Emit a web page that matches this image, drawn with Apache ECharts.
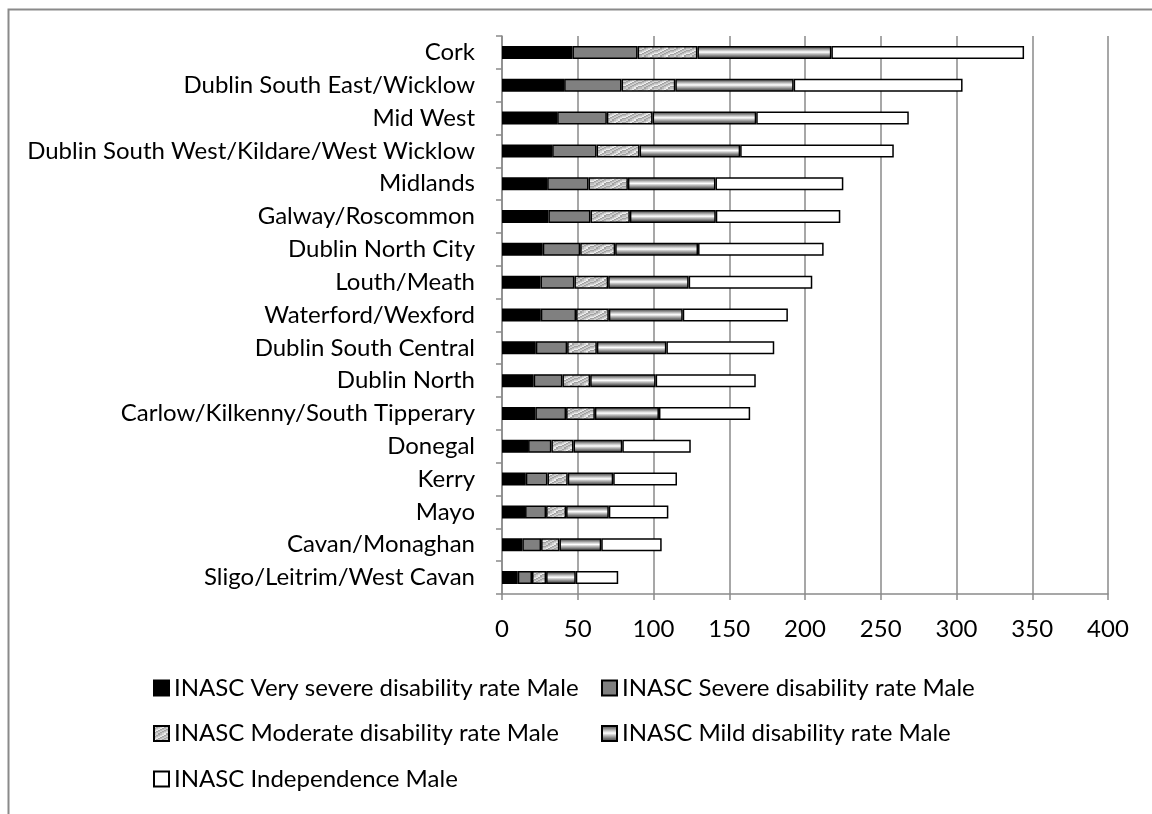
<!DOCTYPE html>
<html>
<head>
<meta charset="utf-8">
<script src="https://cdn.jsdelivr.net/npm/echarts@6/dist/echarts.min.js"></script>
<style>
  html, body { margin: 0; padding: 0; background: #fff; }
  #chart { width: 1152px; height: 814px; }
</style>
</head>
<body>
<div id="chart"></div>
<script>
const categories = ['Cork','Dublin South East/Wicklow','Mid West','Dublin South West/Kildare/West Wicklow','Midlands','Galway/Roscommon','Dublin North City','Louth/Meath','Waterford/Wexford','Dublin South Central','Dublin North','Carlow/Kilkenny/South Tipperary','Donegal','Kerry','Mayo','Cavan/Monaghan','Sligo/Leitrim/West Cavan'];
const verySevere = [46.5, 41, 36.4, 33.1, 29.8, 30.6, 26.9, 25.4, 25.6, 22.3, 20.9, 22, 17.2, 15.7, 15.2, 13.4, 10.4];
const severe = [43, 37.9, 32.8, 29.3, 27.3, 27.8, 24.7, 22.4, 23.3, 20.7, 19, 20.3, 15.4, 14.3, 13.9, 12.4, 9.4];
const moderate = [39.5, 35.5, 30.2, 28.4, 26, 26, 23.1, 22.3, 21.6, 19.6, 18.3, 19, 14.6, 13.4, 13.2, 12.1, 9.3];
const mild = [88.4, 78.1, 68.4, 66.4, 57.8, 56.7, 54.7, 53.1, 48.8, 45.9, 43.2, 42.3, 32.2, 30, 28.2, 27.6, 19.6];
const independence = [127.2, 111.5, 100.7, 101.4, 84.4, 82.2, 82.9, 81.6, 69.4, 71.2, 66.1, 60.2, 45.2, 42.1, 39.3, 39.9, 28];
const seriesNames = ['INASC Very severe disability rate Male','INASC Severe disability rate Male','INASC Moderate disability rate Male','INASC Mild disability rate Male','INASC Independence Male'];
const xTicks = { min: 0, max: 400, interval: 50 };

// mottled light-grey texture for the "moderate" series (fixed tile, no randomness)
const mottleTile = [
  '2211332211003322',
  '1133221100332211',
  '3322110033221133',
  '2211003322113322',
  '1100332211332211',
  '0033221133221100',
  '3322113322110033',
  '2211332211003322'
];
const mottleShades = ['#eeeeee', '#d4d4d4', '#bdbdbd', '#a2a2a2'];
function makeMottle() {
  const c = document.createElement('canvas');
  c.width = 16; c.height = 8;
  const g = c.getContext('2d');
  for (let y = 0; y < 8; y++) for (let x = 0; x < 16; x++) {
    g.fillStyle = mottleShades[+mottleTile[y][x]];
    g.fillRect(x, y, 1, 1);
  }
  return c;
}
const mildFill = new echarts.graphic.LinearGradient(0, 0, 0, 1, [
  { offset: 0, color: '#3c3c3c' }, { offset: 0.18, color: '#7c7c7c' },
  { offset: 0.36, color: '#cfcfcf' }, { offset: 0.48, color: '#ffffff' },
  { offset: 0.6, color: '#c4c4c4' }, { offset: 0.8, color: '#727272' },
  { offset: 1, color: '#3a3a3a' }
]);
const fills = ['#000000', '#808080', { image: makeMottle(), repeat: 'repeat' }, mildFill, '#ffffff'];
const dataSets = [verySevere, severe, moderate, mild, independence];

const FONT = 'Lato';
const chart = echarts.init(document.getElementById('chart'), null, { renderer: 'canvas' });
const legendText = { fontFamily: FONT, fontSize: 24, color: '#000', lineHeight: 30, padding: [0, 0, 0, 0] };
chart.setOption({
  backgroundColor: '#fff',
  animation: false,
  graphic: [{
    type: 'rect', left: 6, top: 7, silent: true,
    shape: { x: 0, y: 0, width: 1300, height: 900 },
    style: { fill: 'none', stroke: '#8a8a8a', lineWidth: 2 }
  }],
  legend: [
    { orient: 'vertical', left: 148, top: 668, itemWidth: 15, itemHeight: 15, itemGap: 15.5, icon: 'rect',
      data: [seriesNames[0], seriesNames[2], seriesNames[4]], textStyle: legendText, selectedMode: false },
    { orient: 'vertical', left: 596, top: 668, itemWidth: 15, itemHeight: 15, itemGap: 15.5, icon: 'rect',
      data: [seriesNames[1], seriesNames[3]], textStyle: legendText, selectedMode: false }
  ],
  grid: { left: 502, right: 44, top: 36, bottom: 220, containLabel: false },
  xAxis: {
    type: 'value', min: xTicks.min, max: xTicks.max, interval: xTicks.interval,
    axisLine: { show: true, lineStyle: { color: '#8a8a8a', width: 1.5 } },
    axisTick: { show: true, length: 6, lineStyle: { color: '#8a8a8a', width: 1.5 } },
    splitLine: { show: true, lineStyle: { color: '#8a8a8a', width: 1.5 } },
    axisLabel: { fontFamily: FONT, fontSize: 24, color: '#000', margin: 23 }
  },
  yAxis: {
    type: 'category', data: categories, inverse: true,
    axisLine: { show: true, lineStyle: { color: '#8a8a8a', width: 1.5 } },
    axisTick: { show: true, length: 6, lineStyle: { color: '#8a8a8a', width: 1.5 } },
    axisLabel: { fontFamily: FONT, fontSize: 24, color: '#000', margin: 27 }
  },
  series: seriesNames.map((name, i) => ({
    name, type: 'bar', stack: 'total', data: dataSets[i], barWidth: 13,
    itemStyle: { color: fills[i], borderColor: '#000', borderWidth: 1.5 }
  }))
});
</script>
</body>
</html>
